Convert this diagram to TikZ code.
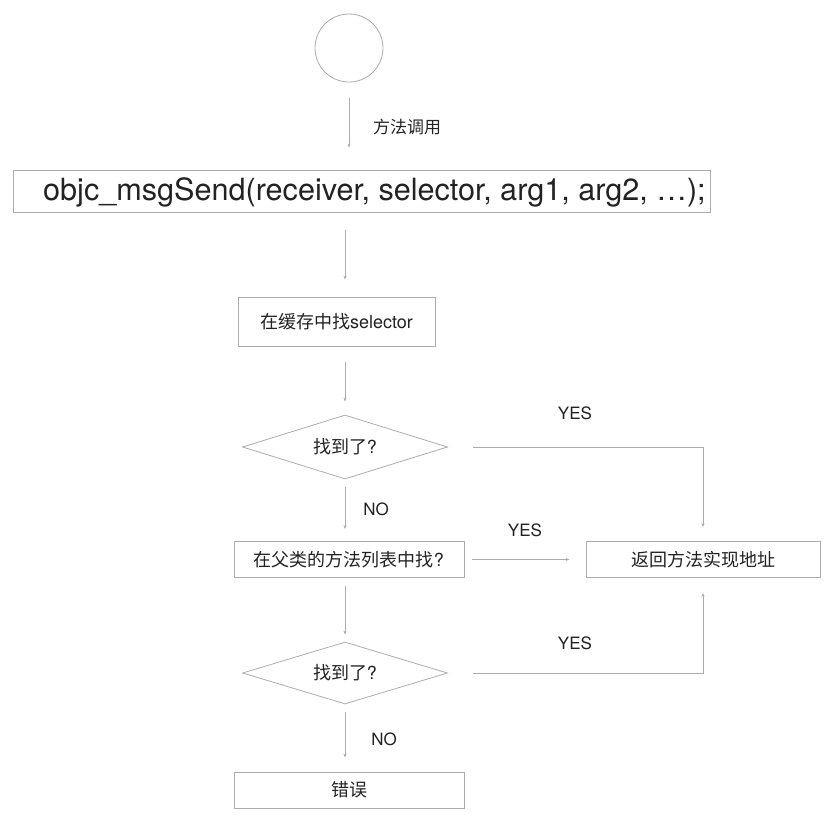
\documentclass[tikz,border=0pt]{standalone}
\usepackage{fontspec}
\setmainfont{TeX Gyre Heros}
\newfontfamily\cjk{Noto Sans CJK SC}
\usetikzlibrary{shapes.geometric, arrows.meta, positioning, calc}
\definecolor{linegray}{RGB}{172,172,172}
\definecolor{textgray}{RGB}{34,34,34}

\begin{document}
\begin{tikzpicture}[
        x=1pt, y=-1pt,
        every node/.style={text=textgray},
        box/.style={rectangle, draw=linegray, line width=0.8pt, font=\fontsize{18}{20}\selectfont},
        decision/.style={diamond, draw=linegray, line width=0.8pt, inner sep=0pt, aspect=3.2, minimum width=205pt, font=\fontsize{18}{20}\selectfont},
        flow/.style={-{Stealth[length=4pt, width=3pt]}, draw=linegray, line width=0.8pt},
        lbl/.style={font=\fontsize{17}{20}\selectfont}
    ]
        \useasboundingbox (0,0) rectangle (838,830);

        % Start
        \node[circle, draw=linegray, line width=0.8pt, minimum size=68pt] (start) at (349,48) {};
        \node[lbl, font=\fontsize{17}{20}\selectfont\cjk] (calllbl) at (407,127) {方法调用};

        % Message send
        \node[box, minimum width=697pt, minimum height=42pt] (call) at (361.5,191) {};
        \node[anchor=west, inner sep=0pt, font=\fontsize{30.6}{34}\selectfont] (calltext) at (43,192) {objc\_msgSend(receiver, selector, arg1, arg2, …);};

        % Cache lookup
        \node[box, minimum width=197pt, minimum height=49pt] (cache) at (336.5,321.5) {{\cjk 在缓存中找}selector};
        \node[decision, minimum height=64pt] (found1) at (345,447) {{\cjk 找到了}?};

        % Superclass lookup
        \node[box, minimum width=230pt, minimum height=36pt] (super) at (349,559.5) {{\cjk 在父类的方法列表中找}?};
        \node[decision, minimum height=62pt] (found2) at (345,673) {{\cjk 找到了}?};

        % Results
        \node[box, minimum width=234pt, minimum height=36pt] (ret) at (703,559.5) {\cjk 返回方法实现地址};
        \node[box, minimum width=230pt, minimum height=36pt] (err) at (349,790) {\cjk 错误};

        % Connectors
        \draw[flow, shorten <=16pt, shorten >=22pt] (start) -- (call.north -| start);
        \draw[flow, shorten <=18pt, shorten >=17pt] (call.south -| found1) -- (cache.north -| found1);
        \draw[flow, shorten <=16pt, shorten >=13pt] (cache.south -| found1) -- (found1.north);
        \draw[flow, shorten <=8pt, shorten >=12pt] (found1.south) -- (super.north -| found1);
        \draw[flow, shorten <=25pt, shorten >=14pt] (found1.east) -| (ret.north);
        \draw[flow, shorten <=8pt, shorten >=16pt] (super.east) -- (ret.west);
        \draw[flow, shorten <=8pt, shorten >=7pt] (super.south -| found2) -- (found2.north);
        \draw[flow, shorten <=25pt, shorten >=15pt] (found2.east) -| (ret.south);
        \draw[flow, shorten <=8pt, shorten >=14pt] (found2.south) -- (err.north -| found2);

        % Branch labels
        \node[lbl] (yes1) at (575,413) {YES};
        \node[lbl] (no1) at (376,509) {NO};
        \node[lbl] (yes2) at (525,530) {YES};
        \node[lbl] (yes3) at (575,643) {YES};
        \node[lbl] (no2) at (384,739) {NO};
    \end{tikzpicture}
\end{document}
